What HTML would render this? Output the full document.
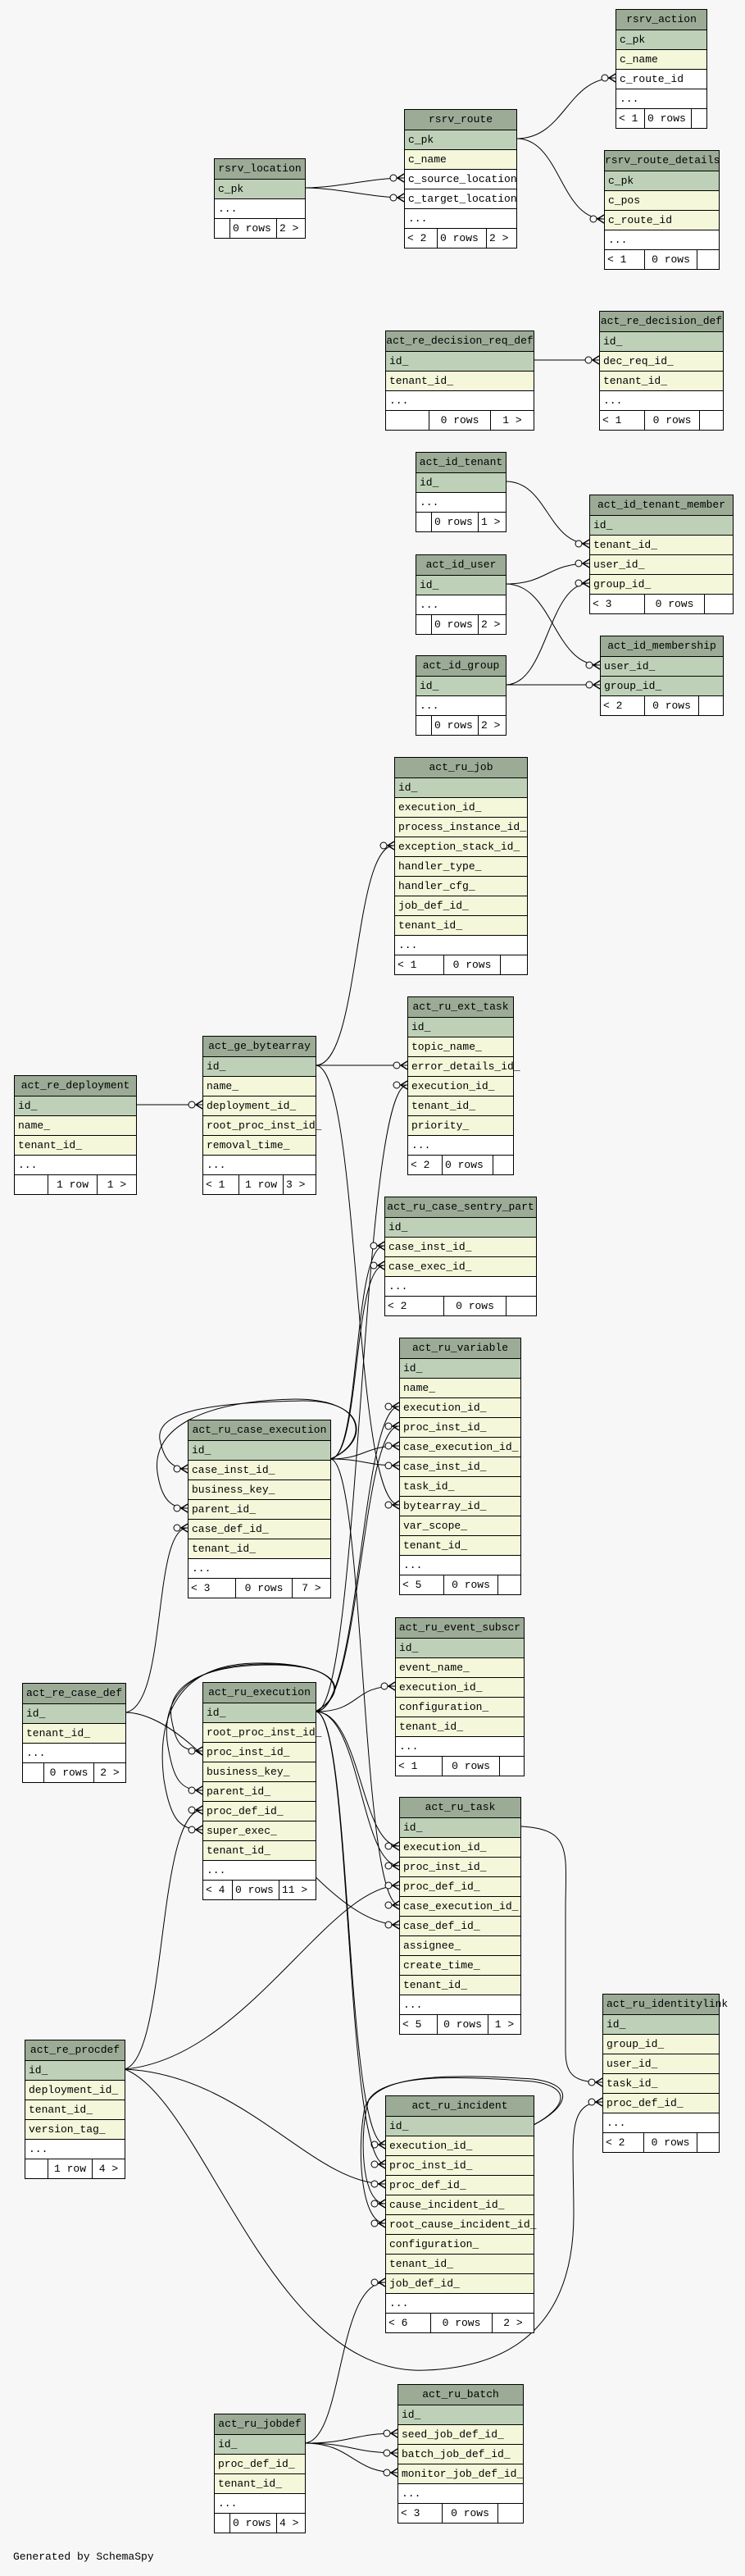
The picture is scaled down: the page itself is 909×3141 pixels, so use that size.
<!DOCTYPE html>
<html><head><meta charset="utf-8"><style>
body{margin:0;background:#f7f7f7;width:909px;height:3141px;position:relative;overflow:hidden;font-family:"Liberation Mono","DejaVu Sans Mono",monospace;font-size:13px;color:#000}
.t{position:absolute;border:1px solid #000;background:#fff}
.t>div{height:24px;box-sizing:border-box;border-top:1px solid #000;line-height:23px;padding-left:4px;white-space:nowrap}
.t>div:first-child{border-top:none}
.h{background:#9bab96;text-align:center;padding-left:0!important}
.p{background:#bed1b8}
.f{background:#f4f7da}
.w{background:#fff}
.t>.ft{display:flex;padding-left:0;background:#fff}
.ft span{border-right:1px solid #000;height:23px;padding-left:3px;box-sizing:border-box;overflow:visible}
.ft span:last-child{border-right:none;flex:1}
.ft span.c{text-align:center;padding-left:0}
svg{position:absolute;left:0;top:0}
.gen{position:absolute;left:16px;top:3110px}
</style></head><body>
<svg width="909" height="3141">
<defs><marker id="cf" markerUnits="userSpaceOnUse" markerWidth="22" markerHeight="14" refX="20" refY="7" orient="auto">
<line x1="10" y1="7" x2="20" y2="7" stroke="#000"/>
<line x1="12" y1="7" x2="20" y2="2" stroke="#000" stroke-width="1.4"/>
<line x1="12" y1="7" x2="20" y2="12" stroke="#000" stroke-width="1.4"/>
<circle cx="7" cy="7" r="4" fill="#f7f7f7" stroke="#000"/>
</marker></defs>
<g fill="none" stroke="#000" stroke-width="1" marker-end="url(#cf)">
<path d="M372,229 C412,229 453,217 493,217"/>
<path d="M372,229 C412,229 453,241 493,241"/>
<path d="M630,169 C690,169 691,95 751,95"/>
<path d="M630,169 C684,169 683,267 737,267"/>
<path d="M651,439 L731,439"/>
<path d="M617,587 C668,587 668,663 719,663"/>
<path d="M617,712 C668,712 668,687 719,687"/>
<path d="M617,712 C675,712 675,811 732,811"/>
<path d="M617,835 C668,835 668,711 719,711"/>
<path d="M617,835 L732,835"/>
<path d="M166,1347 L247,1347"/>
<path d="M385,1299 C440,1299 430,1031 481,1031"/>
<path d="M385,1299 L497,1299"/>
<path d="M385,1299 C440,1299 430,1835 487,1835"/>
<path d="M385,2087 C440,2087 440,1323 497,1323"/>
<path d="M385,2087 C440,2087 440,1715 487,1715"/>
<path d="M385,2087 C440,2087 440,1739 487,1739"/>
<path d="M385,2087 C440,2087 430,2056 482,2056"/>
<path d="M385,2087 C440,2087 440,2251 487,2251"/>
<path d="M385,2087 C440,2087 440,2275 487,2275"/>
<path d="M385,2087 C430,2087 420,2615 470,2615"/>
<path d="M385,2087 C430,2087 420,2639 470,2639"/>
<path d="M385,2087 C430,2060 410,2030 330,2030 C240,2030 200,2060 210,2100 C215,2125 220,2135 247,2135"/>
<path d="M385,2087 C430,2060 410,2028 320,2029 C230,2030 195,2070 205,2130 C212,2170 220,2183 247,2183"/>
<path d="M385,2087 C430,2060 410,2026 310,2028 C220,2030 190,2090 200,2170 C208,2220 220,2231 247,2231"/>
<path d="M403,1779 C440,1779 430,1519 469,1519"/>
<path d="M403,1779 C440,1779 430,1543 469,1543"/>
<path d="M403,1779 C445,1779 445,1763 487,1763"/>
<path d="M403,1779 C445,1779 445,1787 487,1787"/>
<path d="M403,1779 C445,1779 440,2323 487,2323"/>
<path d="M403,1779 C450,1760 450,1708 370,1708 C260,1710 190,1720 195,1755 C200,1780 210,1791 229,1791"/>
<path d="M403,1779 C450,1758 450,1706 360,1706 C250,1708 185,1740 192,1795 C197,1830 210,1839 229,1839"/>
<path d="M153,2088 C205,2080 185,1863 229,1863"/>
<path d="M153,2088 C260,2090 380,2347 487,2347"/>
<path d="M152,2523 C205,2510 190,2207 247,2207"/>
<path d="M152,2523 C300,2510 400,2299 487,2299"/>
<path d="M152,2523 C300,2530 380,2663 470,2663"/>
<path d="M152,2523 C250,2560 330,2900 520,2890 C640,2885 700,2820 700,2700 C700,2610 690,2563 735,2563"/>
<path d="M635,2227 C700,2230 690,2260 690,2330 L690,2500 C690,2530 700,2539 735,2539"/>
<path d="M651,2591 C690,2570 700,2545 650,2538 C550,2530 470,2530 450,2560 C438,2600 440,2687 470,2687"/>
<path d="M651,2591 C692,2570 705,2542 650,2535 C540,2528 460,2530 445,2570 C435,2620 440,2711 470,2711"/>
<path d="M372,2979 C420,2975 410,2783 470,2783"/>
<path d="M372,2979 C430,2979 430,2967 485,2967"/>
<path d="M372,2979 C430,2979 430,2991 485,2991"/>
<path d="M372,2979 C430,2979 430,3015 485,3015"/>
</g></svg>

<div class="t" style="left:261px;top:193px;width:110px"><div class="h">rsrv_location</div><div class="p">c_pk</div><div class="w">...</div><div class="ft"><span style="width:19px"></span><span style="width:57px">0 rows</span><span>2 &gt;</span></div></div>

<div class="t" style="left:493px;top:133px;width:136px"><div class="h">rsrv_route</div><div class="p">c_pk</div><div class="f">c_name</div><div class="w">c_source_location</div><div class="w">c_target_location</div><div class="w">...</div><div class="ft"><span style="width:40px">&lt; 2</span><span style="width:60px">0 rows</span><span>2 &gt;</span></div></div>

<div class="t" style="left:751px;top:11px;width:110px"><div class="h">rsrv_action</div><div class="p">c_pk</div><div class="f">c_name</div><div class="w">c_route_id</div><div class="w">...</div><div class="ft"><span style="width:35px">&lt; 1</span><span style="width:57px">0 rows</span><span></span></div></div>

<div class="t" style="left:737px;top:183px;width:139px"><div class="h">rsrv_route_details</div><div class="p">c_pk</div><div class="f">c_pos</div><div class="f">c_route_id</div><div class="w">...</div><div class="ft"><span style="width:49px">&lt; 1</span><span class="c" style="width:64px">0 rows</span><span></span></div></div>

<div class="t" style="left:470px;top:403px;width:180px"><div class="h">act_re_decision_req_def</div><div class="p">id_</div><div class="f">tenant_id_</div><div class="w">...</div><div class="ft"><span style="width:53px"></span><span class="c" style="width:75px">0 rows</span><span class="c">1 &gt;</span></div></div>

<div class="t" style="left:731px;top:379px;width:150px"><div class="h">act_re_decision_def</div><div class="p">id_</div><div class="f">dec_req_id_</div><div class="f">tenant_id_</div><div class="w">...</div><div class="ft"><span style="width:55px">&lt; 1</span><span class="c" style="width:67px">0 rows</span><span></span></div></div>

<div class="t" style="left:507px;top:551px;width:109px"><div class="h">act_id_tenant</div><div class="p">id_</div><div class="w">...</div><div class="ft"><span style="width:19px"></span><span style="width:57px">0 rows</span><span>1 &gt;</span></div></div>

<div class="t" style="left:507px;top:676px;width:109px"><div class="h">act_id_user</div><div class="p">id_</div><div class="w">...</div><div class="ft"><span style="width:19px"></span><span style="width:57px">0 rows</span><span>2 &gt;</span></div></div>

<div class="t" style="left:507px;top:799px;width:109px"><div class="h">act_id_group</div><div class="p">id_</div><div class="w">...</div><div class="ft"><span style="width:19px"></span><span style="width:57px">0 rows</span><span>2 &gt;</span></div></div>

<div class="t" style="left:719px;top:603px;width:174px"><div class="h">act_id_tenant_member</div><div class="p">id_</div><div class="f">tenant_id_</div><div class="f">user_id_</div><div class="f">group_id_</div><div class="ft"><span style="width:67px">&lt; 3</span><span class="c" style="width:73px">0 rows</span><span></span></div></div>

<div class="t" style="left:732px;top:775px;width:149px"><div class="h">act_id_membership</div><div class="p">user_id_</div><div class="p">group_id_</div><div class="ft"><span style="width:54px">&lt; 2</span><span class="c" style="width:66px">0 rows</span><span></span></div></div>

<div class="t" style="left:481px;top:923px;width:161px"><div class="h">act_ru_job</div><div class="p">id_</div><div class="f">execution_id_</div><div class="f">process_instance_id_</div><div class="f">exception_stack_id_</div><div class="f">handler_type_</div><div class="f">handler_cfg_</div><div class="f">job_def_id_</div><div class="f">tenant_id_</div><div class="w">...</div><div class="ft"><span style="width:60px">&lt; 1</span><span class="c" style="width:69px">0 rows</span><span></span></div></div>

<div class="t" style="left:497px;top:1215px;width:128px"><div class="h">act_ru_ext_task</div><div class="p">id_</div><div class="f">topic_name_</div><div class="f">error_details_id_</div><div class="f">execution_id_</div><div class="f">tenant_id_</div><div class="f">priority_</div><div class="w">...</div><div class="ft"><span style="width:42px">&lt; 2</span><span style="width:62px">0 rows</span><span></span></div></div>

<div class="t" style="left:17px;top:1311px;width:148px"><div class="h">act_re_deployment</div><div class="p">id_</div><div class="f">name_</div><div class="f">tenant_id_</div><div class="w">...</div><div class="ft"><span style="width:41px"></span><span class="c" style="width:60px">1 row</span><span class="c">1 &gt;</span></div></div>

<div class="t" style="left:247px;top:1263px;width:137px"><div class="h">act_ge_bytearray</div><div class="p">id_</div><div class="f">name_</div><div class="f">deployment_id_</div><div class="f">root_proc_inst_id_</div><div class="f">removal_time_</div><div class="w">...</div><div class="ft"><span style="width:44px">&lt; 1</span><span class="c" style="width:54px">1 row</span><span>3 &gt;</span></div></div>

<div class="t" style="left:469px;top:1459px;width:184px"><div class="h">act_ru_case_sentry_part</div><div class="p">id_</div><div class="f">case_inst_id_</div><div class="f">case_exec_id_</div><div class="w">...</div><div class="ft"><span style="width:72px">&lt; 2</span><span class="c" style="width:76px">0 rows</span><span></span></div></div>

<div class="t" style="left:487px;top:1631px;width:147px"><div class="h">act_ru_variable</div><div class="p">id_</div><div class="f">name_</div><div class="f">execution_id_</div><div class="f">proc_inst_id_</div><div class="f">case_execution_id_</div><div class="f">case_inst_id_</div><div class="f">task_id_</div><div class="f">bytearray_id_</div><div class="f">var_scope_</div><div class="f">tenant_id_</div><div class="w">...</div><div class="ft"><span style="width:54px">&lt; 5</span><span class="c" style="width:66px">0 rows</span><span></span></div></div>

<div class="t" style="left:482px;top:1972px;width:156px"><div class="h">act_ru_event_subscr</div><div class="p">id_</div><div class="f">event_name_</div><div class="f">execution_id_</div><div class="f">configuration_</div><div class="f">tenant_id_</div><div class="w">...</div><div class="ft"><span style="width:57px">&lt; 1</span><span class="c" style="width:70px">0 rows</span><span></span></div></div>

<div class="t" style="left:229px;top:1731px;width:173px"><div class="h">act_ru_case_execution</div><div class="p">id_</div><div class="f">case_inst_id_</div><div class="f">business_key_</div><div class="f">parent_id_</div><div class="f">case_def_id_</div><div class="f">tenant_id_</div><div class="w">...</div><div class="ft"><span style="width:58px">&lt; 3</span><span class="c" style="width:69px">0 rows</span><span class="c">7 &gt;</span></div></div>

<div class="t" style="left:27px;top:2052px;width:125px"><div class="h">act_re_case_def</div><div class="p">id_</div><div class="f">tenant_id_</div><div class="w">...</div><div class="ft"><span style="width:26px"></span><span class="c" style="width:61px">0 rows</span><span class="c">2 &gt;</span></div></div>

<div class="t" style="left:247px;top:2051px;width:137px"><div class="h">act_ru_execution</div><div class="p">id_</div><div class="f">root_proc_inst_id_</div><div class="f">proc_inst_id_</div><div class="f">business_key_</div><div class="f">parent_id_</div><div class="f">proc_def_id_</div><div class="f">super_exec_</div><div class="f">tenant_id_</div><div class="w">...</div><div class="ft"><span style="width:36px">&lt; 4</span><span style="width:57px">0 rows</span><span>11 &gt;</span></div></div>

<div class="t" style="left:487px;top:2191px;width:147px"><div class="h">act_ru_task</div><div class="p">id_</div><div class="f">execution_id_</div><div class="f">proc_inst_id_</div><div class="f">proc_def_id_</div><div class="f">case_execution_id_</div><div class="f">case_def_id_</div><div class="f">assignee_</div><div class="f">create_time_</div><div class="f">tenant_id_</div><div class="w">...</div><div class="ft"><span style="width:46px">&lt; 5</span><span class="c" style="width:62px">0 rows</span><span class="c">1 &gt;</span></div></div>

<div class="t" style="left:735px;top:2431px;width:141px"><div class="h" style="text-align:left;padding-left:4px!important">act_ru_identitylink</div><div class="p">id_</div><div class="f">group_id_</div><div class="f">user_id_</div><div class="f">task_id_</div><div class="f">proc_def_id_</div><div class="w">...</div><div class="ft"><span style="width:50px">&lt; 2</span><span class="c" style="width:65px">0 rows</span><span></span></div></div>

<div class="t" style="left:470px;top:2555px;width:180px"><div class="h">act_ru_incident</div><div class="p">id_</div><div class="f">execution_id_</div><div class="f">proc_inst_id_</div><div class="f">proc_def_id_</div><div class="f">cause_incident_id_</div><div class="f">root_cause_incident_id_</div><div class="f">configuration_</div><div class="f">tenant_id_</div><div class="f">job_def_id_</div><div class="w">...</div><div class="ft"><span style="width:55px">&lt; 6</span><span class="c" style="width:75px">0 rows</span><span class="c">2 &gt;</span></div></div>

<div class="t" style="left:30px;top:2487px;width:121px"><div class="h">act_re_procdef</div><div class="p">id_</div><div class="f">deployment_id_</div><div class="f">tenant_id_</div><div class="f">version_tag_</div><div class="w">...</div><div class="ft"><span style="width:28px"></span><span class="c" style="width:54px">1 row</span><span class="c">4 &gt;</span></div></div>

<div class="t" style="left:261px;top:2943px;width:110px"><div class="h">act_ru_jobdef</div><div class="p">id_</div><div class="f">proc_def_id_</div><div class="f">tenant_id_</div><div class="w">...</div><div class="ft"><span style="width:19px"></span><span style="width:57px">0 rows</span><span>4 &gt;</span></div></div>

<div class="t" style="left:485px;top:2907px;width:152px"><div class="h">act_ru_batch</div><div class="p">id_</div><div class="f">seed_job_def_id_</div><div class="f">batch_job_def_id_</div><div class="f">monitor_job_def_id_</div><div class="w">...</div><div class="ft"><span style="width:54px">&lt; 3</span><span class="c" style="width:68px">0 rows</span><span></span></div></div>

<div class="gen">Generated by SchemaSpy</div>
</body></html>
